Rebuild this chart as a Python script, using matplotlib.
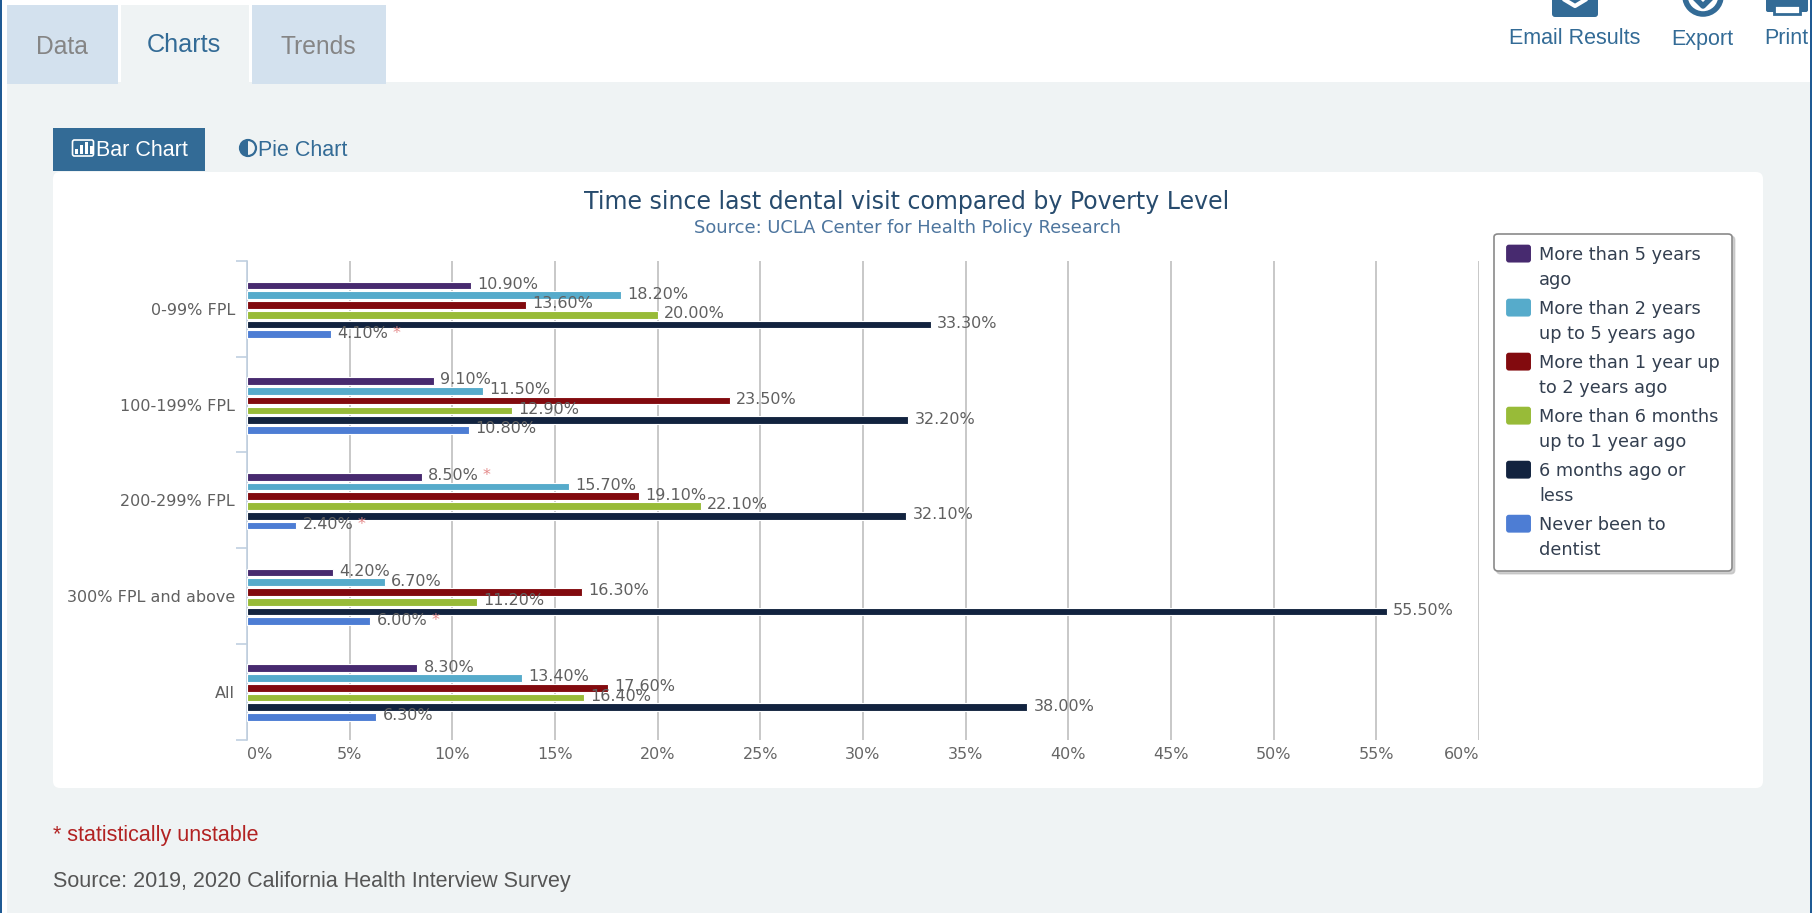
import matplotlib
matplotlib.use("Agg")
import matplotlib.pyplot as plt
from matplotlib.patches import Rectangle, FancyBboxPatch, Circle, Wedge, Patch
from matplotlib.legend_handler import HandlerPatch
from matplotlib.transforms import Bbox

categories = ["0-99% FPL", "100-199% FPL", "200-299% FPL", "300% FPL and above", "All"]
series_names = ["More than 5 years\nago", "More than 2 years\nup to 5 years ago",
                "More than 1 year up\nto 2 years ago", "More than 6 months\nup to 1 year ago",
                "6 months ago or\nless", "Never been to\ndentist"]
more_5y = [10.9, 9.1, 8.5, 4.2, 8.3]
more_2y = [18.2, 11.5, 15.7, 6.7, 13.4]
more_1y = [13.6, 23.5, 19.1, 16.3, 17.6]
more_6m = [20.0, 12.9, 22.1, 11.2, 16.4]
within_6m = [33.3, 32.2, 32.1, 55.5, 38.0]
never = [4.1, 10.8, 2.4, 6.0, 6.3]
unstable = {(0, 5), (2, 0), (2, 5), (3, 5)}
colors = ["#472a6f", "#56abcb", "#820a0e", "#98bb38", "#12233f", "#4d7dd4"]
x_ticks = list(range(0, 61, 5))

W, H = 1812, 913
fig = plt.figure(figsize=(W / 100, H / 100), dpi=100, facecolor="white")

# ---- page furniture, in pixel coordinates
bg = fig.add_axes([0, 0, 1, 1], zorder=0)
bg.set_xlim(0, W)
bg.set_ylim(H, 0)
bg.axis("off")
PAGE = "#eff3f4"
TAB = "#d3e1ee"
BLUE = "#336b96"
SANS = "Liberation Sans"
bg.add_patch(Rectangle((7, 82), 1803, H - 82, color=PAGE, lw=0))
bg.add_patch(Rectangle((7, 5), 111, 79, color=TAB, lw=0))
bg.add_patch(Rectangle((121, 5), 128, 79, color=PAGE, lw=0))
bg.add_patch(Rectangle((252, 5), 134, 79, color=TAB, lw=0))
bg.text(62, 46.5, "Data", family=SANS, fontsize=17.7, color="#858585", ha="center", va="center")
bg.text(184, 45.5, "Charts", family=SANS, fontsize=18.2, color=BLUE, ha="center", va="center")
bg.text(318, 46.5, "Trends", family=SANS, fontsize=17.7, color="#858585", ha="center", va="center")

bg.add_patch(FancyBboxPatch((1552, -20), 46, 37, boxstyle="round,pad=0,rounding_size=3", color=BLUE, lw=0))
bg.plot([1565, 1575, 1585], [0, 6, 0], color="white", lw=3)
bg.add_patch(Circle((1703, -4), 18, fc="none", ec=BLUE, lw=4))
bg.plot([1695, 1703, 1711], [-2, 6, -2], color=BLUE, lw=4)
bg.add_patch(FancyBboxPatch((1766, -10), 42, 22, boxstyle="round,pad=0,rounding_size=2", color=BLUE, lw=0))
bg.add_patch(Rectangle((1774, 5), 26, 9, fc="white", ec=BLUE, lw=2))
bg.text(1575, 39, "Email Results", family=SANS, fontsize=15.5, color=BLUE, ha="center", va="center")
bg.text(1702.5, 39, "Export", family=SANS, fontsize=15.5, color=BLUE, ha="center", va="center")
bg.text(1764, 39, "Print", family=SANS, fontsize=15.5, color=BLUE, ha="left", va="center", clip_on=True)

bg.add_patch(Rectangle((0, 0), 2, H, color="#1f5a94", lw=0, zorder=5))
bg.add_patch(Rectangle((1810, 0), 2, H, color="#1f5a94", lw=0, zorder=5))

bg.add_patch(Rectangle((53, 128), 152, 43, color=BLUE, lw=0))
bg.add_patch(FancyBboxPatch((72.5, 140), 21, 16, boxstyle="round,pad=0,rounding_size=2", fc="none", ec="white", lw=1.2))
for bx, bh in zip([75, 80, 85, 90], [5, 9, 12, 8]):
    bg.add_patch(Rectangle((bx, 154 - bh), 3, bh, color="white", lw=0))
bg.text(95.5, 151, "Bar Chart", family=SANS, fontsize=15.5, color="white", ha="left", va="center")
bg.add_patch(Circle((248, 148), 8, fc=PAGE, ec=BLUE, lw=1.6))
bg.add_patch(Wedge((248, 148), 8, 90, 270, color=BLUE, lw=0))
bg.text(258, 151, "Pie Chart", family=SANS, fontsize=15.5, color=BLUE, ha="left", va="center")

bg.add_patch(FancyBboxPatch((53, 172), 1710, 616, boxstyle="round,pad=0,rounding_size=7", color="white", lw=0))
bg.text(53, 835, "* statistically unstable", family=SANS, fontsize=15.5, color="#b22222", ha="left", va="center")
bg.text(53, 881, "Source: 2019, 2020 California Health Interview Survey", family=SANS, fontsize=15.5,
        color="#555555", ha="left", va="center")

bg.text(907, 202, "Time since last dental visit compared by Poverty Level", fontsize=17,
        color="#274b6d", ha="center", va="center")
bg.text(907, 228, "Source: UCLA Center for Health Policy Research", fontsize=12.9,
        color="#4d759e", ha="center", va="center")

# ---- chart
L, R, T, B = 247, 1479, 261, 739.5
ax = fig.add_axes([L / W, 1 - B / H, (R - L) / W, (B - T) / H], zorder=2)
ax.patch.set_alpha(0)
ax.set_xlim(0, 60)
ax.set_ylim(len(categories) - 0.5, -0.5)
for s in ["top", "right", "bottom"]:
    ax.spines[s].set_visible(False)
ax.spines["left"].set_color("#c0d0e0")
ax.spines["left"].set_linewidth(1.2)

ax.set_xticks(x_ticks)
ax.set_xticklabels([f"{v}%" for v in x_ticks], fontsize=11.5, color="#666666")
ax.tick_params(axis="x", length=0, pad=5.5)
xl = ax.get_xticklabels()
xl[0].set_ha("left")
xl[-1].set_ha("right")
ax.grid(axis="x", color="#c4c4c4", lw=1.3, zorder=0)
ax.set_axisbelow(True)

ax.set_yticks([i - 0.5 for i in range(len(categories) + 1)])
ax.set_yticklabels([])
ax.tick_params(axis="y", which="major", length=8, color="#c0d0e0", width=1.2)
ax.set_yticks(range(len(categories)), minor=True)
ax.set_yticklabels(categories, minor=True, fontsize=11.5, color="#606060")
ax.tick_params(axis="y", which="minor", length=0, pad=8.7)

all_series = [more_5y, more_2y, more_1y, more_6m, within_6m, never]
step, bar_h = 0.102, 0.08
for j, (vals, col) in enumerate(zip(all_series, colors)):
    ys = [i + (j - 2.5) * step + 0.01 for i in range(len(vals))]
    ax.barh(ys, vals, height=bar_h, color=col, edgecolor="white", linewidth=0.8, zorder=3)
    for i, (v, y) in enumerate(zip(vals, ys)):
        t = ax.annotate(f"{v:.2f}%", (v, y), xytext=(4.5, 0.8), textcoords="offset points",
                        fontsize=11.5, color="#606060", ha="left", va="center", zorder=4)
        if (i, j) in unstable:
            ax.annotate("*", xy=(1, 0.5), xycoords=t, xytext=(3, 0), textcoords="offset points",
                        fontsize=11.5, color="#e58a8a", ha="left", va="center", zorder=4)


class RoundHandle(HandlerPatch):
    def create_artists(self, legend, orig, xd, yd, width, height, fontsize, trans):
        p = FancyBboxPatch((-xd, -yd + 10.5), width, height, boxstyle="round,pad=0,rounding_size=2",
                           facecolor=orig.get_facecolor(), edgecolor="none", transform=trans)
        return [p]


handles = [Patch(color=c, label=n) for c, n in zip(colors, series_names)]
leg = fig.legend(handles=handles, loc="upper left",
                 bbox_to_anchor=Bbox.from_extents(1494 / W, 1 - 233.6 / H, 1494 / W, 1 - 233.6 / H),
                 bbox_transform=fig.transFigure, borderaxespad=0, prop={"size": 12.8},
                 labelcolor="#333f50", handler_map={Patch: RoundHandle()},
                 handlelength=1.4, handleheight=1.17, handletextpad=0.45, borderpad=0.68,
                 labelspacing=0.62, fancybox=True, frameon=True, framealpha=1,
                 edgecolor="#8a8a8a", shadow={"ox": 2, "oy": -2, "color": "#b5b5b5", "alpha": 0.6})
leg.get_frame().set_linewidth(1.2)
leg.set_zorder(6)
for t in leg.get_texts():
    t.set_linespacing(1.5)

fig.savefig("out.png", dpi=100)
